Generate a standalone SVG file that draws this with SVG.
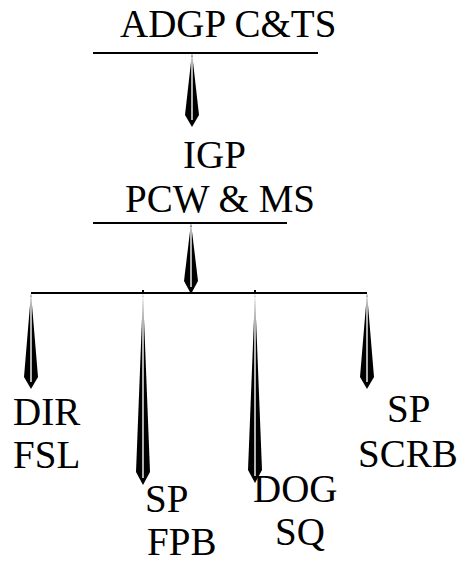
<svg xmlns="http://www.w3.org/2000/svg" width="459" height="561" viewBox="0 0 459 561">
<defs>
<style>
.t{font-family:"Liberation Serif","Times New Roman",serif;font-size:39px;fill:#000}
.ln{stroke:#000;stroke-width:2;fill:none}
.ar{fill:#000}
.hl{stroke:#fff;stroke-width:1.4}
</style>
</defs>
<rect width="459" height="561" fill="#fff"/>
<g id="connectors">
<line class="ln" x1="93" y1="53" x2="318" y2="53"/>
<line class="ln" x1="93" y1="223" x2="287" y2="223"/>
<line class="ln" x1="31" y1="293" x2="367" y2="293"/>
<line class="ln" x1="143" y1="290" x2="143" y2="294"/>
<line class="ln" x1="255" y1="290" x2="255" y2="294"/>
<g id="arrow1">
<polygon class="ar" points="192,53 185,115 192,127 199,115"/>
<line class="hl" x1="192" y1="57" x2="192" y2="120"/>
</g>
<g id="arrow2">
<polygon class="ar" points="191,223 184,281 191,294 198,281"/>
<line class="hl" x1="191" y1="227" x2="191" y2="287"/>
</g>
<g id="arrow3">
<polygon class="ar" points="31,293 24,377 31,389 38,377"/>
<line class="hl" x1="31" y1="297" x2="31" y2="382"/>
</g>
<g id="arrow4">
<polygon class="ar" points="143,293 136,472 143,485 150,472"/>
<line class="hl" x1="143" y1="297" x2="143" y2="478"/>
</g>
<g id="arrow5">
<polygon class="ar" points="255,293 248,470 255,483 262,470"/>
<line class="hl" x1="255" y1="297" x2="255" y2="476"/>
</g>
<g id="arrow6">
<polygon class="ar" points="367,293 360,377 367,389 374,377"/>
<line class="hl" x1="367" y1="297" x2="367" y2="382"/>
</g>
</g>
<g id="adgp"><text class="t" x="120" y="37">ADGP C&amp;TS</text></g>
<g id="igp"><text class="t" x="183" y="168">IGP</text><text class="t" x="125" y="212">PCW &amp; MS</text></g>
<g id="dir"><text class="t" x="13" y="425">DIR</text><text class="t" x="13" y="468">FSL</text></g>
<g id="spfpb"><text class="t" x="145" y="512">SP</text><text class="t" x="147" y="555">FPB</text></g>
<g id="dog"><text class="t" x="253" y="502">DOG</text><text class="t" x="275" y="545">SQ</text></g>
<g id="spscrb"><text class="t" x="387" y="422">SP</text><text class="t" x="358" y="467">SCRB</text></g>
</svg>
